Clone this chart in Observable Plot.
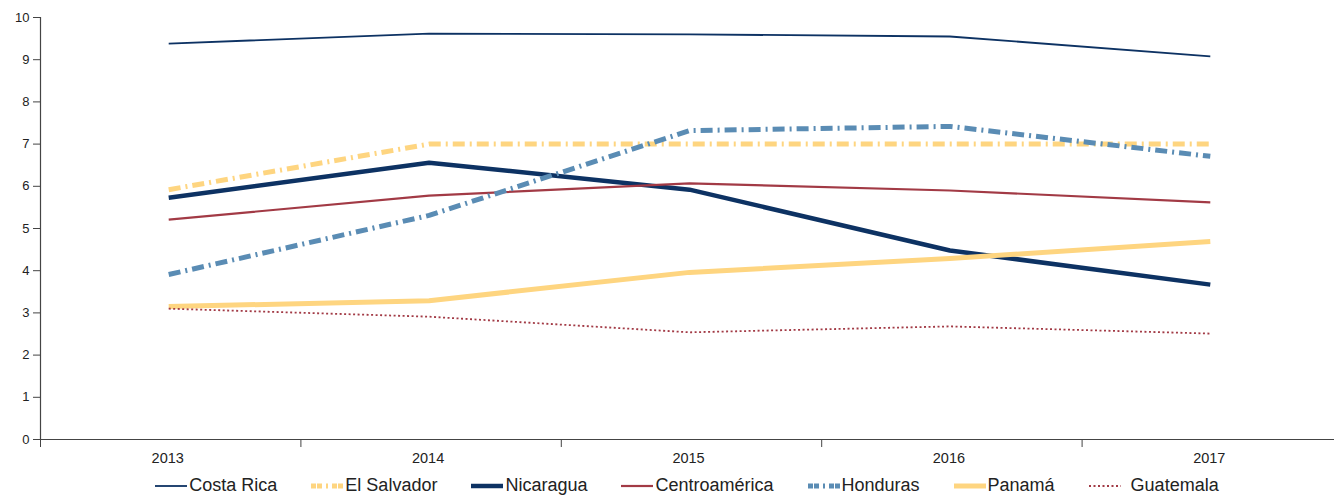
<!DOCTYPE html>
<html>
<head>
<meta charset="utf-8">
<script src="https://cdn.jsdelivr.net/npm/d3@7"></script>
<script src="https://cdn.jsdelivr.net/npm/@observablehq/plot@0.6"></script>
<style>
  html, body { margin: 0; padding: 0; background: #fff; }
  body { width: 1334px; height: 496px; overflow: hidden; font-family: "Liberation Sans", Arial, sans-serif; }
  #legend { display: flex; justify-content: center; align-items: center; padding-left: 40px; padding-top: 3px; height: 21px; font-size: 18px; line-height: 21px; color: #222; }
  .item { display: flex; align-items: center; margin: 0 17px; white-space: nowrap; }
  .item svg { margin-right: 2px; }
</style>
</head>
<body>
<div id="chart"></div>
<div id="legend"></div>
<script>
const years = ["2013", "2014", "2015", "2016", "2017"];
const costaRica     = [9.38, 9.62, 9.60, 9.55, 9.08];
const elSalvador    = [5.92, 7.00, 7.00, 7.00, 7.00];
const nicaragua     = [5.73, 6.56, 5.92, 4.48, 3.67];
const centroamerica = [5.21, 5.78, 6.07, 5.90, 5.62];
const honduras      = [3.91, 5.31, 7.32, 7.42, 6.71];
const panama        = [3.15, 3.29, 3.96, 4.29, 4.69];
const guatemala     = [3.10, 2.91, 2.54, 2.68, 2.51];
const yTicks = [0, 1, 2, 3, 4, 5, 6, 7, 8, 9, 10];

const series = [
  {name: "Costa Rica", values: costaRica, stroke: "#0d3263", width: 1.8, dash: null},
  {name: "El Salvador", values: elSalvador, stroke: "#fed580", width: 5, dash: "12,5,2,5"},
  {name: "Nicaragua", values: nicaragua, stroke: "#0d3263", width: 4.5, dash: null},
  {name: "Centroamérica", values: centroamerica, stroke: "#a23a45", width: 2.2, dash: null},
  {name: "Honduras", values: honduras, stroke: "#5a8cb4", width: 5, dash: "12,5,2,5"},
  {name: "Panamá", values: panama, stroke: "#fed580", width: 5, dash: null},
  {name: "Guatemala", values: guatemala, stroke: "#a23a45", width: 1.8, dash: "2,2.5"}
];

const lineMarks = series.map(s => Plot.line(
  years.map((y, i) => ({i, v: s.values[i]})),
  {x: "i", y: "v", stroke: s.stroke, strokeWidth: s.width, strokeDasharray: s.dash, strokeLinecap: "butt", strokeLinejoin: "round", dx: -2}
));

const chart = Plot.plot({
  width: 1334,
  height: 472,
  marginLeft: 40,
  marginRight: 0,
  marginTop: 17,
  marginBottom: 33,
  style: {fontFamily: "Liberation Sans, Arial, sans-serif", color: "#222", background: "#fff"},
  x: {domain: [-0.5, 4.5], range: [40, 1342]},
  y: {domain: [0, 10]},
  marks: [
    Plot.axisY({ticks: yTicks, tickSize: 7, tickPadding: 4, label: null, fontSize: 13, stroke: "#444"}),
    Plot.axisX({ticks: [-0.5, 0.5, 1.5, 2.5, 3.5], tickSize: 8, tickFormat: () => "", label: null, stroke: "#444"}),
    Plot.axisX({ticks: [0, 1, 2, 3, 4], tickSize: 0, tickPadding: 13, tickFormat: i => years[i], label: null, fontSize: 14.5, dx: -3}),
    Plot.ruleY([0], {stroke: "#444", strokeWidth: 1.2}),
    Plot.ruleX([-0.5], {y1: 0, y2: 10, stroke: "#444", strokeWidth: 1.2}),
    ...lineMarks
  ]
});
document.getElementById("chart").appendChild(chart);

const legend = document.getElementById("legend");
series.forEach(s => {
  const item = document.createElement("div");
  item.className = "item";
  const ns = "http://www.w3.org/2000/svg";
  const svg = document.createElementNS(ns, "svg");
  svg.setAttribute("width", 32);
  svg.setAttribute("height", 10);
  const ln = document.createElementNS(ns, "line");
  ln.setAttribute("x1", 0); ln.setAttribute("x2", 32);
  ln.setAttribute("y1", 5); ln.setAttribute("y2", 5);
  ln.setAttribute("stroke", s.stroke);
  ln.setAttribute("stroke-width", s.width);
  if (s.dash) ln.setAttribute("stroke-dasharray", s.name === "Guatemala" ? s.dash : "5,1,5,4,2,4");
  svg.appendChild(ln);
  item.appendChild(svg);
  const label = document.createElement("span");
  label.textContent = s.name;
  if (s.name === "Guatemala") label.style.marginLeft = "8px";
  item.appendChild(label);
  legend.appendChild(item);
});
</script>
</body>
</html>
